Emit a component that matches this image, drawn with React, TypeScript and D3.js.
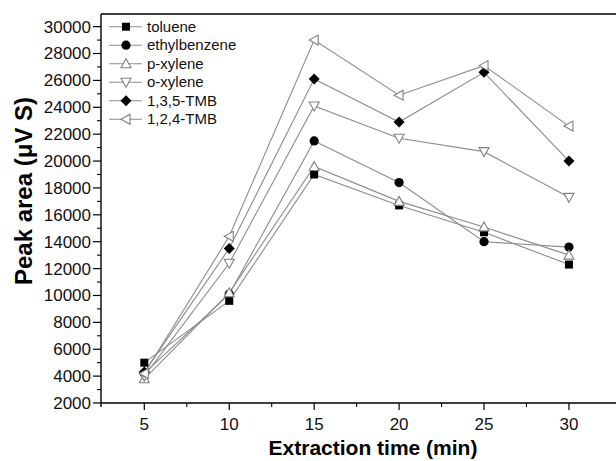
import React from 'react';
import * as d3 from 'd3';

// extraction time (min)
const times = [5, 10, 15, 20, 25, 30];

// peak areas
const toluene = [5000, 9600, 19000, 16700, 14700, 12300];
const ethylbenzene = [4200, 10100, 21500, 18400, 14000, 13600];
const pXylene = [3800, 10200, 19600, 17000, 15100, 13000];
const oXylene = [4000, 12400, 24100, 21700, 20700, 17300];
const tmb135 = [4300, 13500, 26100, 22900, 26600, 20000];
const tmb124 = [4200, 14400, 29000, 24900, 27100, 22600];

const seriesNames = ['toluene', 'ethylbenzene', 'p-xylene', 'o-xylene', '1,3,5-TMB', '1,2,4-TMB'];
const seriesValues = [toluene, ethylbenzene, pXylene, oXylene, tmb135, tmb124];
const markerKinds = ['square', 'circle', 'triUp', 'triDown', 'diamond', 'triLeft'];

const yTickValues = d3.range(2000, 30001, 2000);
const yMinorValues = d3.range(3000, 30000, 2000);
const xTickValues = [5, 10, 15, 20, 25, 30];
const xMinorValues = [7.5, 12.5, 17.5, 22.5, 27.5];

const FONT = 'Liberation Sans, Arial, Helvetica, sans-serif';
const LINE = '#8c8c8c';
const OPEN = '#808080';

function Marker({ kind, x, y }: { kind: string; x: number; y: number }) {
  const r = 5;
  if (kind === 'square') {
    return <rect x={x - 4} y={y - 4} width={8} height={8} fill="#000" />;
  }
  if (kind === 'circle') {
    return <circle cx={x} cy={y} r={4.6} fill="#000" />;
  }
  if (kind === 'diamond') {
    return <path d={`M${x},${y - 5.5}L${x + 5.5},${y}L${x},${y + 5.5}L${x - 5.5},${y}Z`} fill="#000" />;
  }
  let d = '';
  if (kind === 'triUp') d = `M${x},${y - r}L${x + r},${y + r * 0.8}L${x - r},${y + r * 0.8}Z`;
  if (kind === 'triDown') d = `M${x},${y + r}L${x + r},${y - r * 0.8}L${x - r},${y - r * 0.8}Z`;
  if (kind === 'triLeft') d = `M${x - r},${y}L${x + r * 0.8},${y - r}L${x + r * 0.8},${y + r}Z`;
  return <path d={d} fill="#fff" stroke={OPEN} strokeWidth={1.1} />;
}

export default function App() {
  const w = 616, h = 461;
  const left = 101, right = 616, top = 14, bottom = 403;

  const x = d3.scaleLinear().domain([2.45, 32.77]).range([left, right]);
  const y = d3.scaleLinear().domain([2000, 30940]).range([bottom, top]);

  const line = d3.line<number>()
    .x((_, i) => x(times[i]))
    .y(d => y(d));

  return (
    <svg width={w} height={h} style={{ position: 'absolute', left: 0, top: 0, background: '#fff' }}>
      {/* frame: left axis, bottom axis, top line */}
      <line x1={left} x2={right} y1={top} y2={top} stroke="#000" strokeWidth={1.6} />
      <line x1={left} x2={left} y1={top} y2={bottom + 4} stroke="#000" strokeWidth={1.4} />
      <line x1={left} x2={right} y1={bottom} y2={bottom} stroke="#000" strokeWidth={1.4} />

      {/* y ticks */}
      {yTickValues.map(v => (
        <g key={'y' + v}>
          <line x1={left - 8} x2={left} y1={y(v)} y2={y(v)} stroke="#000" strokeWidth={1.2} />
          <text x={left - 10} y={y(v)} dy="0.35em" textAnchor="end" fontFamily={FONT} fontSize={17} fill="#111">{v}</text>
        </g>
      ))}
      {yMinorValues.map(v => (
        <line key={'ym' + v} x1={left - 4} x2={left} y1={y(v)} y2={y(v)} stroke="#000" strokeWidth={1.1} />
      ))}

      {/* x ticks */}
      {xTickValues.map(v => (
        <g key={'x' + v}>
          <line x1={x(v)} x2={x(v)} y1={bottom} y2={bottom + 7} stroke="#000" strokeWidth={1.2} />
          <text x={x(v)} y={bottom + 27} textAnchor="middle" fontFamily={FONT} fontSize={17} fill="#111">{v}</text>
        </g>
      ))}
      {xMinorValues.map(v => (
        <line key={'xm' + v} x1={x(v)} x2={x(v)} y1={bottom} y2={bottom + 4} stroke="#000" strokeWidth={1.1} />
      ))}

      {/* axis titles */}
      <text x={373} y={455} textAnchor="middle" fontFamily={FONT} fontWeight="bold" fontSize={21} fill="#000">
        Extraction time (min)
      </text>
      <text transform="translate(32,191) rotate(-90)" textAnchor="middle" fontFamily={FONT} fontWeight="bold" fontSize={24} fill="#000">
        Peak area (μV S)
      </text>

      {/* series lines */}
      {seriesValues.map((vals, i) => (
        <path key={'l' + i} d={line(vals) || ''} fill="none" stroke={LINE} strokeWidth={1.1} />
      ))}
      {/* markers */}
      {seriesValues.map((vals, i) => (
        <g key={'m' + i}>
          {vals.map((v, j) => <Marker key={j} kind={markerKinds[i]} x={x(times[j])} y={y(v)} />)}
        </g>
      ))}

      {/* legend */}
      {seriesNames.map((name, i) => {
        const ly = 26.7 + i * 18.5;
        return (
          <g key={'lg' + i}>
            <line x1={109} x2={142} y1={ly} y2={ly} stroke={LINE} strokeWidth={1.1} />
            <Marker kind={markerKinds[i]} x={126} y={ly} />
            <text x={147} y={ly} dy="0.35em" fontFamily={FONT} fontSize={15} fill="#111">{name}</text>
          </g>
        );
      })}
    </svg>
  );
}
